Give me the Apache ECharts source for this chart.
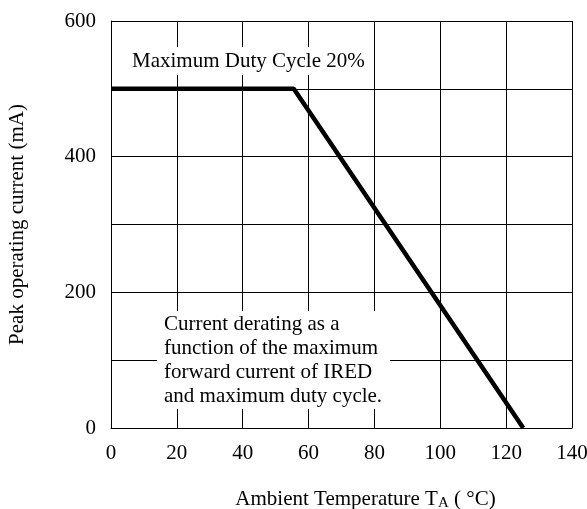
<!DOCTYPE html>
<html>
<head>
<meta charset="utf-8">
<script src="https://cdn.jsdelivr.net/npm/echarts@6/dist/echarts.min.js"></script>
<style>
  html, body { margin: 0; padding: 0; background: #fff; }
  #chart { width: 587px; height: 509px; }
</style>
</head>
<body>
<div id="chart"></div>
<script>
// derating curve
const tempC = [0, 55.5, 125.2]
const currentMA = [500, 500, 0]
const xTicks = [0, 20, 40, 60, 80, 100, 120, 140]
const yTicks = [0, 200, 400, 600]

const serif = "Liberation Serif"
const myChart = echarts.init(document.getElementById("chart"))

myChart.setOption({
    animation: false,
    backgroundColor: "#fff",
    textStyle: { fontFamily: serif, color: "#000" },
    grid: { left: 111, right: 15, top: 21, bottom: 81, outerBoundsMode: "none" },
    xAxis: {
        type: "value",
        min: xTicks[0],
        max: xTicks[xTicks.length - 1],
        interval: 20,
        name: "Ambient Temperature T{sub|A} ( °C)",
        nameLocation: "middle",
        nameGap: 59,
        nameTextStyle: {
            fontFamily: serif, fontSize: 21, color: "#000",
            padding: [0, 0, 0, 48], // title sits a bit right of centre
            rich: { sub: { fontFamily: serif, fontSize: 15, verticalAlign: "bottom", padding: [9, 0, 0, 0] } }
        },
        axisLine: { show: true, lineStyle: { color: "#000", width: 1 } },
        axisTick: { show: false },
        axisLabel: { margin: 15, fontFamily: serif, fontSize: 21, color: "#000" },
        splitLine: { show: true, lineStyle: { color: "#000", width: 1 } }
    },
    yAxis: {
        type: "value",
        min: 0,
        max: 600,
        interval: 100,
        name: "Peak operating current (mA)",
        nameLocation: "middle",
        nameGap: 83,
        nameTextStyle: { fontFamily: serif, fontSize: 21, color: "#000" },
        axisLine: { show: true, lineStyle: { color: "#000", width: 1 } },
        axisTick: { show: false },
        axisLabel: {
            margin: 15, fontFamily: serif, fontSize: 21, color: "#000",
            formatter: v => yTicks.includes(v) ? String(v) : ""
        },
        splitLine: { show: true, lineStyle: { color: "#000", width: 1 } }
    },
    graphic: [
        {
            type: "text",
            left: 124,
            top: 47,
            z: 100,
            style: {
                text: "Maximum Duty Cycle 20%",
                font: "21px " + serif,
                fill: "#000",
                backgroundColor: "#fff",
                padding: [4, 9, 3, 8]
            }
        },
        {
            type: "text",
            left: 157,
            top: 311,
            z: 100,
            style: {
                text: "Current derating as a\nfunction of the maximum\nforward current of IRED\nand maximum duty cycle.",
                font: "21px " + serif,
                lineHeight: 24,
                fill: "#000",
                backgroundColor: "#fff",
                padding: [1, 8, 1, 7]
            }
        }
    ],
    series: [{
        type: "line",
        data: tempC.map((t, i) => [t, currentMA[i]]),
        symbol: "none",
        lineStyle: { color: "#000", width: 4.5 },
        z: 10
    }]
})
</script>
</body>
</html>
